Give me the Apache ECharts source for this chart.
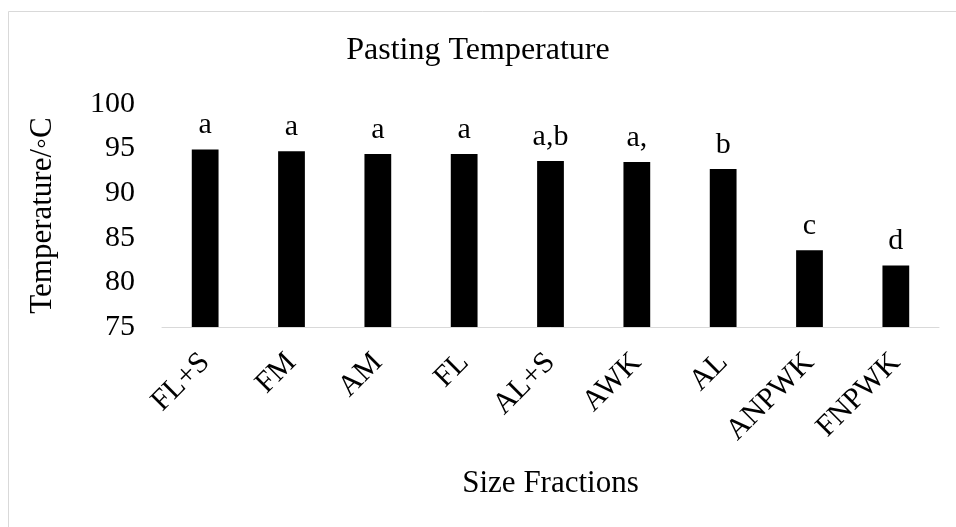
<!DOCTYPE html>
<html>
<head>
<meta charset="utf-8">
<script src="https://cdn.jsdelivr.net/npm/echarts@6/dist/echarts.min.js"></script>
<style>
html,body{margin:0;padding:0;background:#fff;}
#chart{width:956px;height:527px;}
</style>
</head>
<body>
<div id="chart"></div>
<script>
const categories = ['FL+S', 'FM', 'AM', 'FL', 'AL+S', 'AWK', 'AL', 'ANPWK', 'FNPWK'];
const values = [94.9, 94.7, 94.4, 94.4, 93.6, 93.5, 92.7, 83.6, 81.9];
const groupLabels = ['a', 'a', 'a', 'a', 'a,b', 'a,', 'b', 'c', 'd'];
const yTicks = [75, 80, 85, 90, 95, 100];

const FONT = 'Liberation Serif, Times New Roman, serif';
const chart = echarts.init(document.getElementById('chart'), null, {renderer: 'canvas'});
chart.setOption({
  animation: false,
  backgroundColor: '#fff',
  graphic: [{
    type: 'rect',
    shape: {x: 8.5, y: 11.5, width: 960, height: 530},
    style: {fill: 'none', stroke: '#d9d9d9', lineWidth: 1},
    silent: true
  }],
  title: {
    text: 'Pasting Temperature',
    left: 'center',
    top: 30,
    textStyle: {fontFamily: FONT, fontSize: 32, fontWeight: 'normal', color: '#000'}
  },
  grid: {left: 162, right: 17, top: 104, bottom: 200, containLabel: false},
  xAxis: {
    type: 'category',
    data: categories,
    name: 'Size Fractions',
    nameLocation: 'middle',
    nameGap: 141,
    nameTextStyle: {fontFamily: FONT, fontSize: 31, color: '#000'},
    axisLine: {show: true, lineStyle: {color: '#d9d9d9', width: 1}},
    axisTick: {show: false},
    axisLabel: {
      interval: 0,
      rotate: 45,
      margin: 31,
      fontFamily: FONT,
      fontSize: 30,
      color: '#000'
    }
  },
  yAxis: {
    type: 'value',
    min: yTicks[0],
    max: yTicks[yTicks.length - 1],
    interval: 5,
    name: 'Temperature/◦C',
    nameLocation: 'middle',
    nameGap: 104,
    nameRotate: 90,
    nameTextStyle: {fontFamily: FONT, fontSize: 31, color: '#000'},
    axisLine: {show: false},
    axisTick: {show: false},
    splitLine: {show: false},
    axisLabel: {margin: 27, fontFamily: FONT, fontSize: 30, color: '#000'}
  },
  series: [{
    type: 'bar',
    data: values,
    barWidth: '31%',
    itemStyle: {color: '#000'},
    label: {
      show: true,
      position: 'top',
      distance: 9,
      fontFamily: FONT,
      fontSize: 30,
      color: '#000',
      formatter: p => groupLabels[p.dataIndex]
    }
  }]
});
</script>
</body>
</html>
